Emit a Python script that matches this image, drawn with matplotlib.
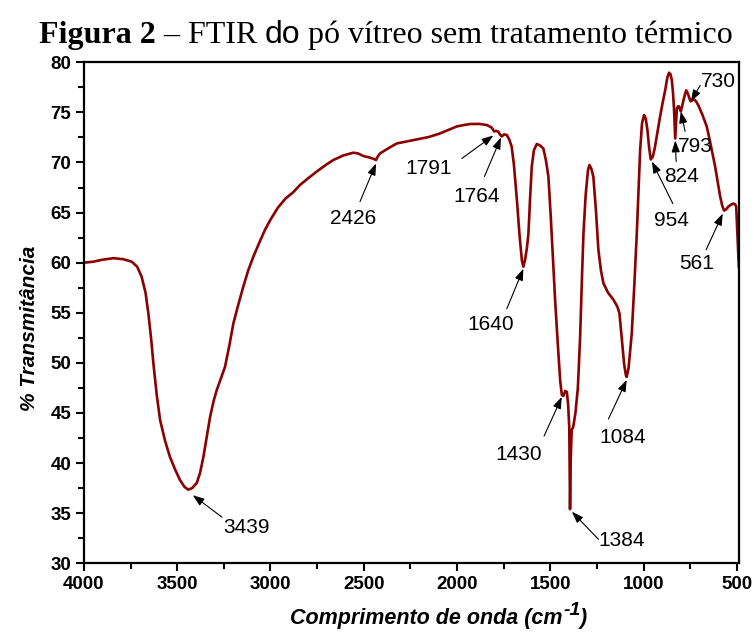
import matplotlib
matplotlib.use('Agg')
import matplotlib.pyplot as plt
from matplotlib.ticker import MultipleLocator

plt.rcParams['font.family'] = 'Liberation Sans'

wavenumber = [
    4000, 3950, 3900, 3843, 3790, 3744, 3715, 3691, 3670, 3655, 3640, 3628,
    3610, 3592, 3565, 3539, 3510, 3485, 3460, 3441, 3420, 3396, 3378, 3360,
    3340, 3324, 3305, 3288, 3265, 3244, 3220, 3199, 3170, 3146, 3120, 3092,
    3060, 3029, 3000, 2960, 2920, 2880, 2842, 2800, 2752, 2700, 2663, 2610,
    2556, 2530, 2502, 2470, 2445, 2434, 2425, 2413, 2370, 2323, 2270, 2216,
    2150, 2091, 2040, 2001, 1960, 1930, 1880, 1840, 1815, 1800, 1790, 1778,
    1770, 1760, 1748, 1733, 1720, 1707, 1695, 1679, 1665, 1652, 1644, 1635,
    1625, 1617, 1608, 1599, 1588, 1572, 1555, 1537, 1523, 1510, 1497, 1483,
    1474, 1460, 1447, 1438, 1430, 1420, 1411, 1404, 1398, 1394, 1390, 1385,
    1377, 1365, 1352, 1340, 1330, 1322, 1310, 1298, 1290, 1280, 1269, 1255,
    1242, 1228, 1215, 1190, 1161, 1140, 1129, 1116, 1104, 1095, 1090, 1080,
    1063, 1050, 1036, 1026, 1018, 1008, 997, 988, 979, 970, 961, 950, 940,
    929, 911, 898, 884, 872, 863, 855, 848, 842, 836, 830, 825, 821, 815,
    810, 800, 793, 786, 778, 771, 765, 759, 750, 746, 740, 729, 718, 706,
    685, 661, 640, 616, 600, 589, 578, 568, 558, 545, 530, 518, 508, 503,
    497, 489,
]
transmittance = [
    60.0, 60.1, 60.3, 60.45, 60.35, 60.1, 59.6, 58.6, 57.0, 54.95, 52.4, 49.96,
    46.8, 44.3, 42.2, 40.6, 39.3, 38.3, 37.6, 37.35, 37.5, 38.0, 39.0, 40.6,
    42.8, 44.6, 46.2, 47.3, 48.5, 49.6, 51.8, 53.95, 56.0, 57.6, 59.2, 60.6,
    62.0, 63.3, 64.3, 65.5, 66.4, 67.0, 67.75, 68.4, 69.1, 69.8, 70.25, 70.7,
    70.98, 70.9, 70.65, 70.5, 70.35, 70.25, 70.6, 70.9, 71.4, 71.9, 72.1, 72.3,
    72.55, 72.9, 73.3, 73.6, 73.75, 73.84, 73.85, 73.74, 73.5, 73.1, 73.15, 73.07,
    72.8, 72.6, 72.8, 72.75, 72.3, 71.6, 69.8, 66.3, 62.8, 60.2, 59.6, 60.3,
    61.5, 62.9, 66.5, 69.6, 71.2, 71.85, 71.7, 71.4, 70.2, 68.6, 64.5, 59.6,
    56.3, 52.0, 48.3, 46.8, 46.7, 47.2, 47.1, 45.8, 43.5, 35.4, 40.5, 43.3,
    43.6, 45.0, 47.5, 52.5, 58.5, 62.9, 66.8, 69.2, 69.75, 69.4, 68.6, 65.2,
    61.3, 59.2, 57.95, 57.0, 56.3, 55.6, 54.95, 52.3, 49.9, 48.8, 48.6, 49.5,
    52.95, 57.5, 62.9, 67.5, 71.25, 73.9, 74.74, 74.4, 73.24, 71.5, 70.3, 70.6, 71.4,
    72.6, 74.6, 75.9, 77.2, 78.5, 78.96, 78.8, 78.2, 77.0, 75.2, 72.4, 74.0, 75.4, 75.6,
    75.6, 75.1, 75.6, 76.2, 76.8, 77.2, 77.0, 76.7, 76.2, 76.1, 76.2, 76.3, 76.1, 75.7,
    74.8, 73.6, 71.8, 69.6, 67.8, 66.6, 65.7, 65.2, 65.3, 65.6, 65.8, 65.9, 65.8, 65.6,
    63.0, 59.6,
]

# --- anotacoes: rotulo, ponta da seta, inicio da seta, posicao do texto ---
peak_labels = ['3439', '2426', '1791', '1764', '1640', '1430', '1384',
               '1084', '954', '824', '793', '730', '561']
arrow_head = [(3417, 36.8), (2434, 69.9), (1805, 72.7), (1764, 72.5),
              (1644, 59.4), (1438, 46.6), (1384, 35.15), (1090, 48.3),
              (955, 70.1), (830, 72.2), (800, 75.1), (746, 76.1), (575, 64.9)]
arrow_tail = [(3260, 34.6), (2520, 66.1), (1974, 70.4), (1853, 68.6),
              (1733, 55.4), (1533, 42.7), (1242, 32.4), (1188, 44.4),
              (843, 65.9), (825, 70.1), (777, 73.1), (696, 77.7), (664, 61.3)]
label_pos = [(3131, 33.6), (2557, 64.4), (2153, 69.4), (1894, 66.6),
             (1819, 53.8), (1671, 40.9), (1116, 32.3), (1111, 42.6),
             (848, 64.2), (795, 68.6), (723, 71.6), (598, 78.1), (714, 59.9)]

fig = plt.figure(figsize=(7.54, 6.43), dpi=100)
ax = fig.add_axes([0.1114, 0.124, 0.8687, 0.7791])

ax.plot(wavenumber, transmittance, color='#8b0000', lw=1.9)

for lab, head, tail, pos in zip(peak_labels, arrow_head, arrow_tail, label_pos):
    ax.annotate('', xy=head, xytext=tail,
                arrowprops=dict(arrowstyle='-|>,head_length=0.7,head_width=0.25',
                                color='black', lw=0.8, shrinkA=0, shrinkB=0))
    ax.text(pos[0], pos[1], lab, ha='center', va='center', fontsize=15)

ax.set_xlim(4000, 488)
ax.set_ylim(30, 80)
ax.xaxis.set_major_locator(MultipleLocator(500))
ax.xaxis.set_minor_locator(MultipleLocator(250))
ax.yaxis.set_major_locator(MultipleLocator(5))
ax.yaxis.set_minor_locator(MultipleLocator(2.5))
ax.tick_params(which='major', direction='out', length=6, width=1.5, labelsize=13.5, pad=3)
ax.tick_params(which='minor', direction='out', length=4, width=1.5)
for t in ax.get_xticklabels() + ax.get_yticklabels():
    t.set_fontweight('bold')
for sp in ax.spines.values():
    sp.set_linewidth(1.6)

ax.set_ylabel('% Transmitância', fontsize=15, fontweight='bold', style='italic')
ax.yaxis.set_label_coords(-0.069, 0.47)


def put_pieces(pieces, center_px, base_px):
    # escreve pedacos de texto lado a lado e centra o conjunto
    rend = fig.canvas.get_renderer()
    W, H = fig.bbox.width, fig.bbox.height
    texts = []
    x = 0.0
    for s, rise, kw in pieces:
        t = fig.text(x, 1 - (base_px - rise) / H, s, va='baseline', **kw)
        x += t.get_window_extent(rend).width / W
        texts.append(t)
    x0 = center_px / W - x / 2
    for t in texts:
        t.set_x(t.get_position()[0] + x0)


fig.canvas.draw()

lab_kw = dict(family='Liberation Sans', fontweight='bold', style='italic', fontsize=15.5)
put_pieces([('Comprimento de onda (cm', 0, lab_kw),
            ('-1', 9, dict(lab_kw, fontsize=14)),
            (')', 0, lab_kw)], 439, 624)

put_pieces([('Figura 2', 0, dict(family='Liberation Serif', fontweight='bold', fontsize=23)),
            (' \u2013 FTIR ', 0, dict(family='Liberation Serif', fontsize=23)),
            ('do', 0, dict(family='Liberation Sans', fontsize=23)),
            (' pó vítreo sem tratamento térmico', 0, dict(family='Liberation Serif', fontsize=23))],
           386, 43)

fig.savefig('out.png', dpi=100)
